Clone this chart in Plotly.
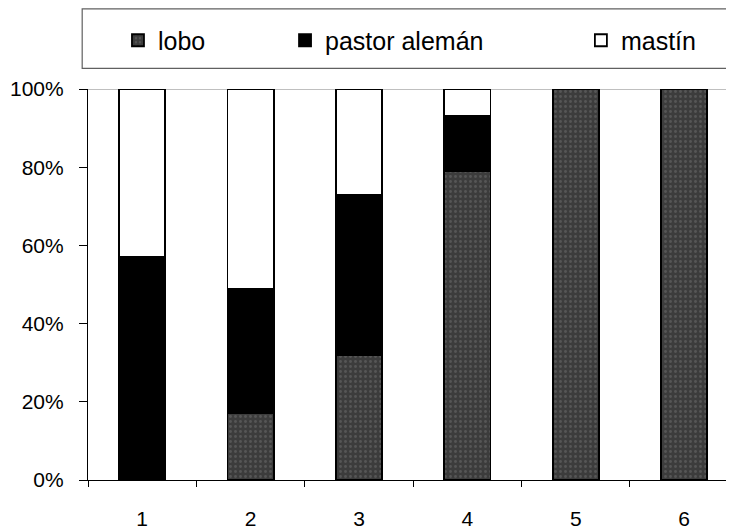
import plotly.graph_objects as go

categories = ["1", "2", "3", "4", "5", "6"]
lobo = [0, 17, 32, 79, 100, 100]
pastor = [57, 32, 41, 14, 0, 0]
mastin = [43, 51, 27, 7, 0, 0]
y_ticks = [0, 20, 40, 60, 80, 100]
y_labels = ["0%", "20%", "40%", "60%", "80%", "100%"]

FONT = "Liberation Sans, Arial, sans-serif"
line = dict(color="black", width=1.8)

fig = go.Figure()
fig.add_trace(go.Bar(
    x=categories, y=lobo, name="lobo", legend="legend", showlegend=True,
    marker=dict(color="#3c3c3c", line=line,
                pattern=dict(shape=".", fgcolor="#707070", size=5, solidity=0.25)),
))
fig.add_trace(go.Bar(
    x=categories, y=pastor, name="pastor alemán", legend="legend2", showlegend=True,
    marker=dict(color="black", line=line),
))
fig.add_trace(go.Bar(
    x=categories, y=mastin, name="mastín", legend="legend3", showlegend=True,
    marker=dict(color="white", line=line),
))

leg_common = dict(orientation="h", yanchor="middle", y=1.124, xanchor="left",
                  bgcolor="rgba(0,0,0,0)", borderwidth=0,
                  font=dict(family=FONT, size=25, color="black"))

fig.update_layout(
    width=726, height=522,
    margin=dict(l=80, r=0, t=81, b=46),
    paper_bgcolor="white", plot_bgcolor="white",
    barmode="stack", bargap=0.575,
    showlegend=True,
    font=dict(family=FONT, size=21, color="black"),
    legend=dict(x=0.0464, **leg_common),
    legend2=dict(x=0.305, **leg_common),
    legend3=dict(x=0.763, **leg_common),
    xaxis=dict(
        range=[-0.5, 5.46], showline=True, linecolor="black", linewidth=1.2,
        ticks="outside", tickson="boundaries", ticklen=6, tickcolor="black",
        showgrid=False, ticklabelstandoff=20, tickfont=dict(size=21),
    ),
    yaxis=dict(
        range=[0, 100], tickvals=y_ticks, ticktext=y_labels,
        showline=True, linecolor="black", linewidth=1.2,
        ticks="outside", ticklen=8, tickcolor="black",
        showgrid=False, zeroline=False, ticklabelstandoff=11,
        tickfont=dict(size=21),
    ),
    shapes=[
        dict(type="line", xref="paper", yref="y", x0=0, x1=1, y0=100, y1=100,
             line=dict(color="#808080", width=1.2), layer="below"),
        dict(type="rect", xref="paper", yref="paper", x0=-0.009, x1=0.997,
             y0=1.053, y1=1.205, line=dict(color="#606060", width=1.2)),
    ],
)

fig.write_html("out.html")
